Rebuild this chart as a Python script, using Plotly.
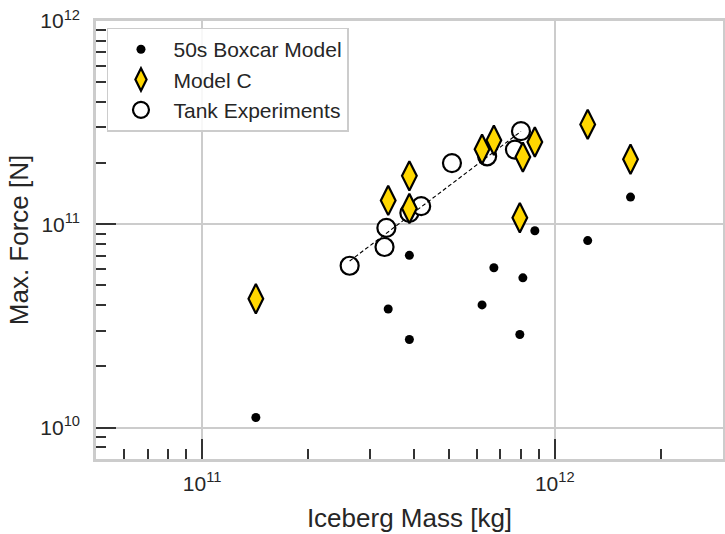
import numpy as np
import plotly.graph_objects as go

# ---- data ----
boxcar_mass = [1.42e11, 3.37e11, 3.87e11, 3.87e11, 6.22e11, 6.72e11, 7.96e11, 8.12e11, 8.78e11, 1.24e12, 1.64e12]
boxcar_force = [1.12e10, 3.83e10, 2.71e10, 7.03e10, 4.01e10, 6.11e10, 2.87e10, 5.45e10, 9.29e10, 8.31e10, 1.36e11]

modelc_mass = [1.42e11, 3.37e11, 3.87e11, 3.87e11, 6.22e11, 6.72e11, 7.96e11, 8.12e11, 8.78e11, 1.24e12, 1.64e12]
modelc_force = [4.30e10, 1.31e11, 1.73e11, 1.195e11, 2.34e11, 2.59e11, 1.077e11, 2.14e11, 2.54e11, 3.10e11, 2.09e11]

tank_mass = [2.62e11, 3.29e11, 3.33e11, 3.87e11, 4.18e11, 5.11e11, 6.43e11, 7.71e11, 8.02e11]
tank_force = [6.25e10, 7.73e10, 9.59e10, 1.137e11, 1.227e11, 2.00e11, 2.16e11, 2.33e11, 2.87e11]

x_tickvals = [1e11, 1e12]
x_ticktext = ["10<sup>11</sup>", "10<sup>12</sup>"]
y_tickvals = [1e10, 1e11, 1e12]
y_ticktext = ["10<sup>10</sup>", "10<sup>11</sup>", "10<sup>12</sup>"]

x_limits = [5e10, 3e12]
y_limits = [7e9, 1e12]

# power-law fit to tank experiments (log-log least squares)
slope, icpt = np.polyfit(np.log10(tank_mass), np.log10(tank_force), 1)
fit_mass = np.array([min(tank_mass), max(tank_mass)])
fit_force = 10 ** (icpt + slope * np.log10(fit_mass))

TXT = "#262626"
GRID = "#cccccc"
FONT = "Liberation Sans, Arial, sans-serif"

fig = go.Figure()

fig.add_trace(go.Scatter(
    x=tank_mass, y=tank_force, mode="markers", name="Tank Experiments",
    legendrank=3,
    marker=dict(symbol="circle", size=18, color="white",
                line=dict(color="black", width=2.2)),
))
fig.add_trace(go.Scatter(
    x=fit_mass, y=fit_force, mode="lines", showlegend=False,
    line=dict(color="black", width=1.1, dash="4px,2.5px"),
))
fig.add_trace(go.Scatter(
    x=boxcar_mass, y=boxcar_force, mode="markers", name="50s Boxcar Model",
    legendrank=1,
    marker=dict(symbol="circle", size=9, color="black", line=dict(width=0)),
))
fig.add_trace(go.Scatter(
    x=modelc_mass, y=modelc_force, mode="markers", name="Model C",
    legendrank=2,
    marker=dict(symbol="diamond-tall", size=21, color="#FFD700",
                line=dict(color="black", width=2.2)),
))

minor_x = [m * 10.0 ** e for e in (10, 11, 12) for m in range(2, 10)]
minor_y = [m * 10.0 ** e for e in (9, 10, 11) for m in range(2, 10)]

axis_common = dict(
    type="log",
    showline=True, mirror=True, linecolor=GRID, linewidth=2.5,
    showgrid=True, gridcolor=GRID, gridwidth=2,
    zeroline=False,
    ticks="inside", ticklen=20, tickwidth=1.5, tickcolor="#333333",
    tickfont=dict(family=FONT, size=21, color=TXT),
    tickmode="array",
)

fig.update_xaxes(
    **axis_common,
    range=[np.log10(x_limits[0]), np.log10(x_limits[1])],
    tickvals=x_tickvals, ticktext=x_ticktext,
    minor=dict(tickvals=minor_x, ticks="inside", ticklen=10, tickwidth=1.5,
               tickcolor="#333333", showgrid=False),
    title=dict(text="Iceberg Mass [kg]", font=dict(family=FONT, size=26, color=TXT), standoff=15),
    ticklabelstandoff=4,
)
fig.update_yaxes(
    **axis_common,
    range=[np.log10(y_limits[0]), np.log10(y_limits[1])],
    tickvals=y_tickvals, ticktext=y_ticktext,
    minor=dict(tickvals=minor_y, ticks="inside", ticklen=10, tickwidth=1.5,
               tickcolor="#333333", showgrid=False),
    title=dict(text="Max. Force [N]", font=dict(family=FONT, size=26, color=TXT), standoff=5),
    ticklabelstandoff=9,
)

fig.update_layout(
    width=725, height=534,
    margin=dict(l=96, r=2, t=21, b=75, autoexpand=False),
    paper_bgcolor="white", plot_bgcolor="white",
    font=dict(family=FONT, color=TXT),
    showlegend=True,
    legend=dict(
        x=0.0175, y=0.985, xanchor="left", yanchor="top",
        bgcolor="rgba(255,255,255,0.85)", bordercolor=GRID, borderwidth=1.5,
        font=dict(family=FONT, size=21, color=TXT),
        itemwidth=55,
    ),
)

fig.write_html(
    "out.html",
    config={"displayModeBar": False},
    post_script="document.body.style.margin='0px';document.body.style.padding='0px';",
)
